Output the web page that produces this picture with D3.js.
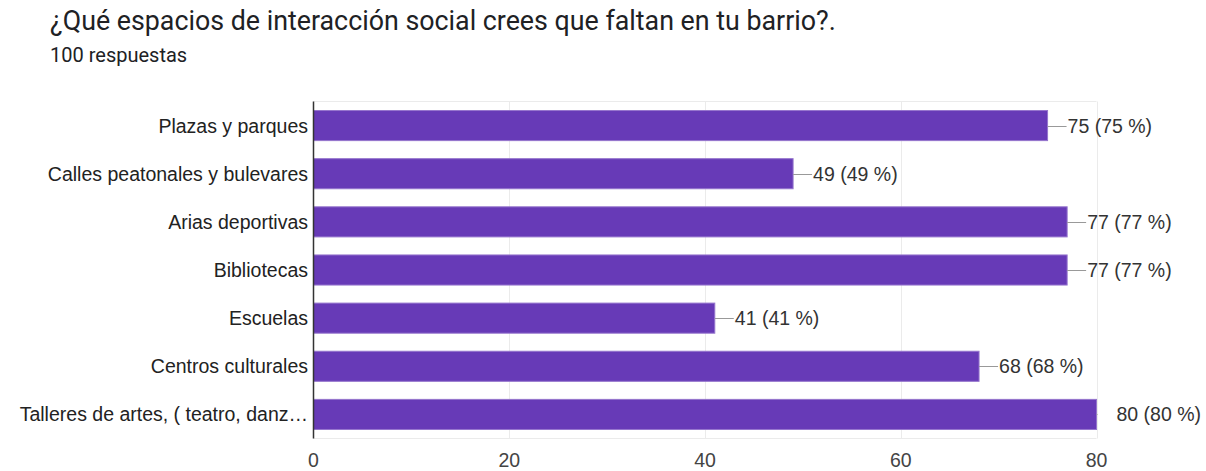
<!DOCTYPE html>
<html><head><meta charset="utf-8">
<script src="https://cdn.jsdelivr.net/npm/d3@7"></script>
<style>body{margin:0;background:#fff;}</style>
</head><body>
<svg id="c" width="1206" height="471"></svg>
<script>
const categories = ["Plazas y parques","Calles peatonales y bulevares","Arias deportivas","Bibliotecas","Escuelas","Centros culturales","Talleres de artes, ( teatro, danz…"];
const values = [75,49,77,77,41,68,80];
const percents = [75,49,77,77,41,68,80];
const xTicks = [0,20,40,60,80];
const title = "¿Qué espacios de interacción social crees que faltan en tu barrio?.";
const subtitle = "100 respuestas";

(function(){
const svg = d3.select("#c");
const pL = 313.5, pR = 1096.5, pT = 101.5, pB = 438.5;
const x = d3.scaleLinear().domain([0,80]).range([pL,pR]);
const y = d3.scaleBand().domain(categories).range([pT,pB]).paddingInner(0.375).paddingOuter(0.1875);
const lf = "Arial, 'Liberation Sans'";

svg.append("text").attr("x",50).attr("y",30).attr("font-family","Roboto").attr("font-size",26.8).attr("fill","#202124").text(title);
svg.append("text").attr("x",50).attr("y",62).attr("font-family","Roboto").attr("font-size",20).attr("fill","#202124").text(subtitle);

svg.append("g").selectAll("line").data(xTicks.slice(1)).join("line")
  .attr("x1",d=>Math.round(x(d))+0.5).attr("x2",d=>Math.round(x(d))+0.5).attr("y1",pT).attr("y2",pB)
  .attr("stroke","#ebebeb").attr("stroke-width",1);
svg.append("line").attr("x1",pL).attr("x2",pR).attr("y1",pT).attr("y2",pT).attr("stroke","#ebebeb");
svg.append("line").attr("x1",pL).attr("x2",pR).attr("y1",pB).attr("y2",pB).attr("stroke","#ebebeb");

svg.append("g").selectAll("rect").data(values).join("rect")
  .attr("x",x(0)).attr("y",(d,i)=>y(categories[i]))
  .attr("width",d=>x(d)-x(0)).attr("height",y.bandwidth())
  .attr("fill","#673ab7").attr("stroke","#9575cd").attr("stroke-width",1);

svg.append("clipPath").attr("id","pc").append("rect").attr("x",pL).attr("y",pT).attr("width",pR-pL+1).attr("height",pB-pT);
svg.append("g").attr("clip-path","url(#pc)").selectAll("line").data(values).join("line")
  .attr("x1",d=>x(d)).attr("x2",d=>x(d)+19)
  .attr("y1",(d,i)=>Math.round(y(categories[i])+y.bandwidth()/2)+0.5)
  .attr("y2",(d,i)=>Math.round(y(categories[i])+y.bandwidth()/2)+0.5)
  .attr("stroke","#999").attr("stroke-width",1);

svg.append("g").selectAll("text").data(values).join("text")
  .attr("x",d=>x(d)+20).attr("y",(d,i)=>y(categories[i])+y.bandwidth()/2).attr("dy","0.36em")
  .attr("font-family",lf).attr("font-size",19.5).attr("fill","#333")
  .text((d,i)=>`${d} (${percents[i]} %)`);

svg.append("line").attr("x1",pL).attr("x2",pL).attr("y1",pT).attr("y2",pB).attr("stroke","#333").attr("stroke-width",1.5);
svg.append("g").selectAll("text").data(categories).join("text")
  .attr("x",pL-5.5).attr("y",d=>y(d)+y.bandwidth()/2).attr("dy","0.36em").attr("text-anchor","end")
  .attr("font-family",lf).attr("font-size",19.5).attr("fill","#222").text(d=>d);

svg.append("g").selectAll("text").data(xTicks).join("text")
  .attr("x",d=>x(d)).attr("y",467).attr("text-anchor","middle")
  .attr("font-family",lf).attr("font-size",19.5).attr("fill","#444").text(d=>d);
})();
</script>
</body></html>
